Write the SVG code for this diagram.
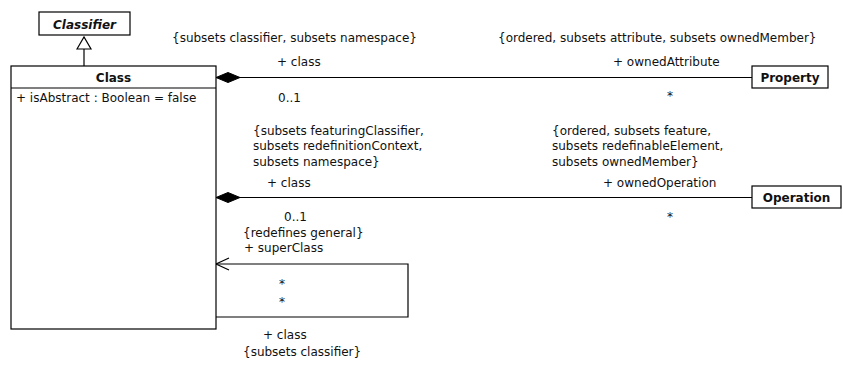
<svg xmlns="http://www.w3.org/2000/svg" width="843" height="365" viewBox="0 0 843 365">
<style>
text { font-family: "DejaVu Sans", Verdana, sans-serif; font-size: 12px; fill: #111; }
.b { font-weight: bold; }
.bi { font-weight: bold; font-style: italic; }
.box { fill: #fff; stroke: #000; stroke-width: 1.2; }
.ln { fill: none; stroke: #000; stroke-width: 1.2; }
</style>
<defs>
<marker id="diamond" markerUnits="userSpaceOnUse" markerWidth="26" markerHeight="12" refX="0" refY="5" orient="auto" overflow="visible">
<path d="M0,5 L12,0 L24,5 L12,10 z" fill="#000" stroke="#000" stroke-width="1"/>
</marker>
<marker id="open" markerUnits="userSpaceOnUse" markerWidth="14" markerHeight="14" refX="13" refY="6" orient="auto" overflow="visible">
<path d="M0,0 L13,6 L0,12" fill="none" stroke="#000" stroke-width="1.2"/>
</marker>
<marker id="gen" markerUnits="userSpaceOnUse" markerWidth="14" markerHeight="16" refX="12" refY="7" orient="auto" overflow="visible">
<path d="M0,0 L12,7 L0,14 z" fill="#fff" stroke="#000" stroke-width="1.2"/>
</marker>
</defs>
<rect width="843" height="365" fill="#fff"/>

<g id="connectors">
<path class="ln" d="M84,66 V37" marker-end="url(#gen)"/>
<path class="ln" d="M216,77.5 H752" marker-start="url(#diamond)"/>
<path class="ln" d="M216,197.5 H752" marker-start="url(#diamond)"/>
<path class="ln" d="M216,317 H408 V264 H216" marker-end="url(#open)"/>
<text x="172" y="42">{subsets classifier, subsets namespace}</text>
<text x="277" y="66">+ class</text>
<text x="278" y="101.5">0..1</text>
<text x="498" y="42">{ordered, subsets attribute, subsets ownedMember}</text>
<text x="613" y="66">+ ownedAttribute</text>
<text x="670" y="100" text-anchor="middle">*</text>
<text x="253" y="134.5">{subsets featuringClassifier,</text>
<text x="253" y="150">subsets redefinitionContext,</text>
<text x="253" y="165.5">subsets namespace}</text>
<text x="267" y="187">+ class</text>
<text x="284" y="220.5">0..1</text>
<text x="552" y="134.5">{ordered, subsets feature,</text>
<text x="552" y="150">subsets redefinableElement,</text>
<text x="552" y="165.5">subsets ownedMember}</text>
<text x="603" y="187">+ ownedOperation</text>
<text x="670" y="221" text-anchor="middle">*</text>
<text x="243" y="237">{redefines general}</text>
<text x="244" y="252">+ superClass</text>
<text x="282" y="288" text-anchor="middle">*</text>
<text x="282" y="306" text-anchor="middle">*</text>
<text x="263" y="339">+ class</text>
<text x="243" y="356">{subsets classifier}</text>
</g>

<g id="classifier">
<rect class="box" x="39" y="12" width="91" height="23"/>
<text class="bi" x="84.5" y="28.5" text-anchor="middle">Classifier</text>
</g>

<g id="class">
<rect class="box" x="11" y="66" width="205" height="263"/>
<line class="ln" x1="11" y1="88" x2="216" y2="88"/>
<text class="b" x="113.5" y="82" text-anchor="middle">Class</text>
<text x="16" y="101.5">+ isAbstract : Boolean = false</text>
</g>

<g id="property">
<rect class="box" x="752" y="66" width="76" height="22"/>
<text class="b" x="790" y="81.5" text-anchor="middle">Property</text>
</g>

<g id="operation">
<rect class="box" x="752" y="186" width="89" height="22"/>
<text class="b" x="796.5" y="201.5" text-anchor="middle">Operation</text>
</g>
</svg>
